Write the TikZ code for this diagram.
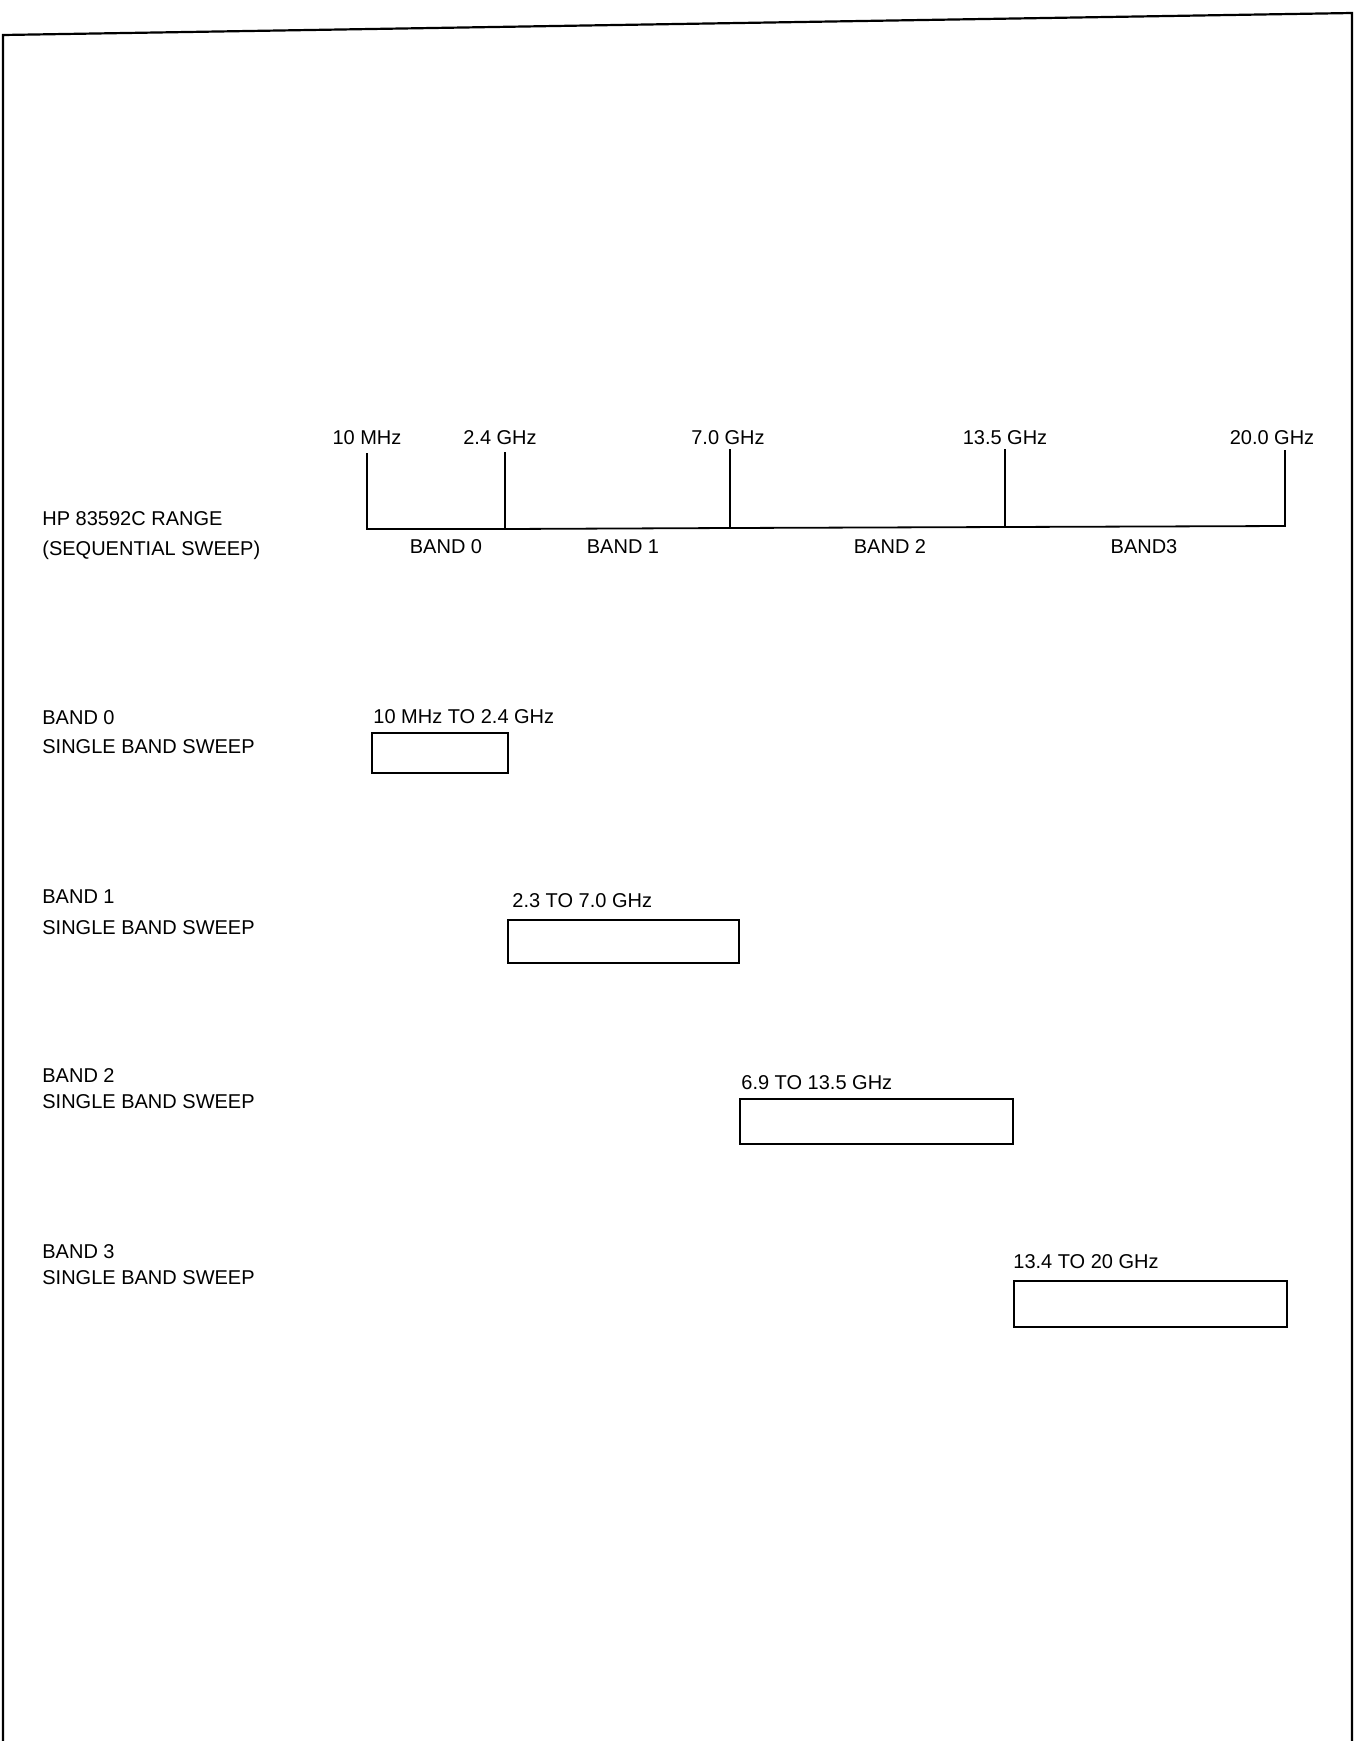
\documentclass[tikz,border=0pt]{standalone}
\usepackage{fontspec}
\setmainfont{Liberation Sans}
\begin{document}
\begin{tikzpicture}[x=0.5pt,y=-0.5pt,
  lbl/.style={inner sep=0pt,anchor=base west,font=\fontsize{10pt}{12pt}\selectfont},
  ticklbl/.style={inner sep=0pt,anchor=base,font=\fontsize{10pt}{12pt}\selectfont},
  bandbox/.style={draw,line width=0.9pt,inner sep=0pt},
  rule/.style={line width=0.9pt},
  frame/.style={line width=1.1pt}]
\useasboundingbox (0,0) rectangle (1356,1741);
% frame
\coordinate (fbl) at (3,1741);
\coordinate (ftl) at (3,35);
\coordinate (ftr) at (1352,13);
\coordinate (fbr) at (1352,1741);
\draw[frame] (fbl) -- (ftl) -- (ftr) -- (fbr);
% range scale
\node[ticklbl] (t0) at (367,444) {10 MHz};
\node[ticklbl] (t1) at (500,444) {2.4 GHz};
\node[ticklbl] (t2) at (728,444) {7.0 GHz};
\node[ticklbl] (t3) at (1005,444) {13.5 GHz};
\node[ticklbl] (t4) at (1272,444) {20.0 GHz};
\coordinate (a0) at (367,453); \coordinate (b0) at (367,529);
\coordinate (a1) at (505,452); \coordinate (b1) at (505,529);
\coordinate (a2) at (730,449); \coordinate (b2) at (730,528);
\coordinate (a3) at (1005,449); \coordinate (b3) at (1005,527);
\coordinate (a4) at (1285,450); \coordinate (b4) at (1285,526);
\draw[rule] (a0) -- (b0) -- (b1) -- (b2) -- (b3) -- (b4) -- (a4);
\draw[rule] (a1) -- (b1);
\draw[rule] (a2) -- (b2);
\draw[rule] (a3) -- (b3);
\node[ticklbl] (n0) at (446,553) {BAND 0};
\node[ticklbl] (n1) at (623,553) {BAND 1};
\node[ticklbl] (n2) at (890,553) {BAND 2};
\node[ticklbl] (n3) at (1144,553) {BAND3};
\node[lbl] (hp1) at (42,525) {HP 83592C RANGE};
\node[lbl] (hp2) at (42,555) {(SEQUENTIAL SWEEP)};
% band 0
\node[lbl] (l0a) at (42,724) {BAND 0};
\node[lbl] (l0b) at (42,753) {SINGLE BAND SWEEP};
\node[lbl] (r0) at (373,723) {10 MHz TO 2.4 GHz};
\node[bandbox,minimum width=68pt,minimum height=20pt] (box0) at (440,753) {};
% band 1
\node[lbl] (l1a) at (42,903) {BAND 1};
\node[lbl] (l1b) at (42,934) {SINGLE BAND SWEEP};
\node[lbl] (r1) at (512,907) {2.3 TO 7.0 GHz};
\node[bandbox,minimum width=115.5pt,minimum height=21.5pt] (box1) at (623.5,941.5) {};
% band 2
\node[lbl] (l2a) at (42,1082) {BAND 2};
\node[lbl] (l2b) at (42,1108) {SINGLE BAND SWEEP};
\node[lbl] (r2) at (741,1089) {6.9 TO 13.5 GHz};
\node[bandbox,minimum width=136.5pt,minimum height=22.5pt] (box2) at (876.5,1121.5) {};
% band 3
\node[lbl] (l3a) at (42,1258) {BAND 3};
\node[lbl] (l3b) at (42,1284) {SINGLE BAND SWEEP};
\node[lbl] (r3) at (1013,1268) {13.4 TO 20 GHz};
\node[bandbox,minimum width=136.5pt,minimum height=23pt] (box3) at (1150.5,1304) {};
\end{tikzpicture}
\end{document}
